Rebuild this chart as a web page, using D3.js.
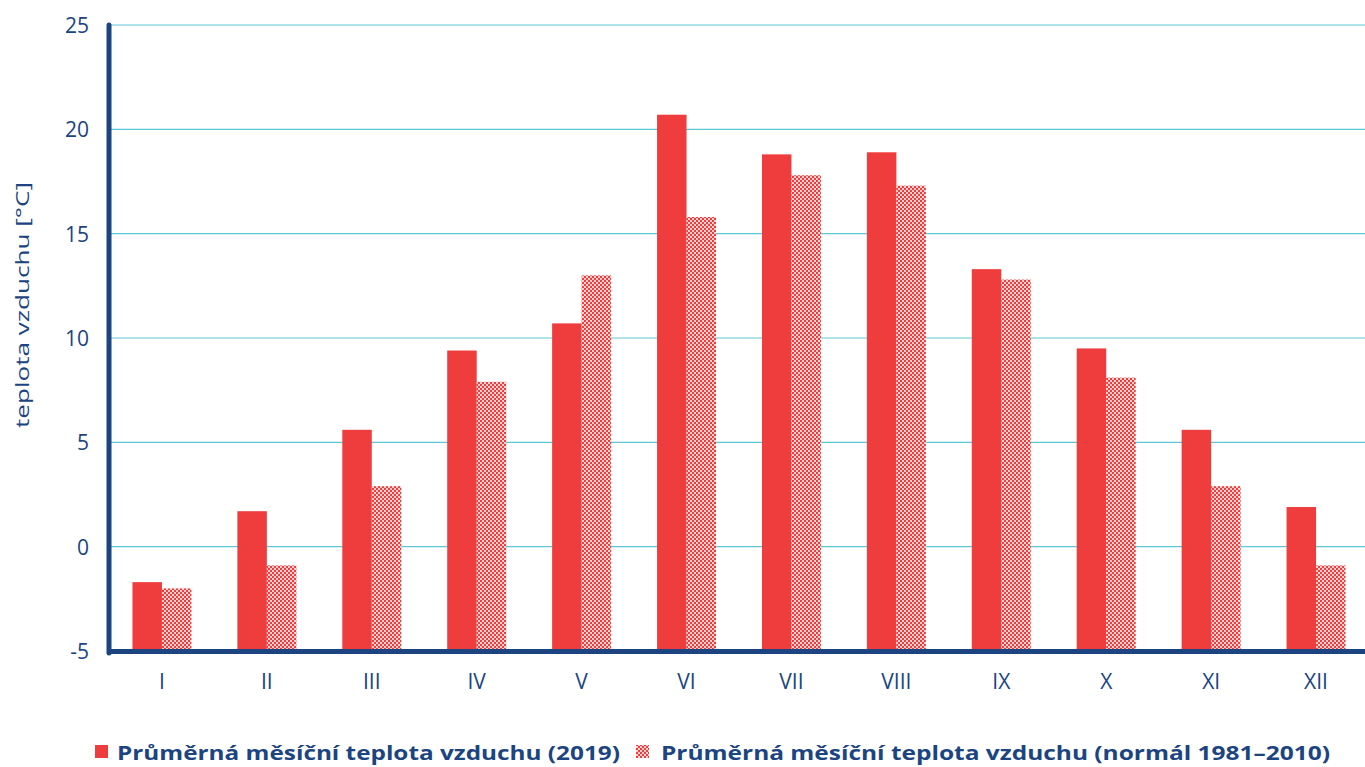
<!DOCTYPE html>
<html>
<head>
<meta charset="utf-8">
<script src="https://cdn.jsdelivr.net/npm/d3@7"></script>
<style>
  body { margin: 0; background: #fff; }
  svg text { font-family: "Open Sans", "Noto Sans", sans-serif; }
</style>
</head>
<body>
<svg id="chart" width="1365" height="767"></svg>
<script>
// months and values
var months = ["I","II","III","IV","V","VI","VII","VIII","IX","X","XI","XII"];
var temp2019 = [-1.7, 1.7, 5.6, 9.4, 10.7, 20.7, 18.8, 18.9, 13.3, 9.5, 5.6, 1.9];
var tempNormal = [-2.0, -0.9, 2.9, 7.9, 13.0, 15.8, 17.8, 17.3, 12.8, 8.1, 2.9, -0.9];
var yTicks = [-5, 0, 5, 10, 15, 20, 25];
var seriesNames = ["Průměrná měsíční teplota vzduchu (2019)", "Průměrná měsíční teplota vzduchu (normál 1981–2010)"];

var navy = "#1b4480", red = "#ef3d3e", grid = "#5cc8d3";

var svg = d3.select("#chart");
var mLeft = 110, mRight = 1365, mTop = 25, mBottom = 651;

//bands run a bit past the right edge, as in the original
var x = d3.scaleBand().domain(months).range([109.5, 1368.5]);
var y = d3.scaleLinear().domain([-5, 25]).range([mBottom, mTop]);
var barW = 29.5;

//checker pattern for normal
var defs = svg.append("defs");
var pat = defs.append("pattern")
  .attr("id", "checks")
  .attr("patternUnits", "userSpaceOnUse")
  .attr("width", 4).attr("height", 4);
pat.append("rect").attr("width", 4).attr("height", 4).attr("fill", "#fbd3d3");
pat.append("rect").attr("width", 2).attr("height", 2).attr("fill", red);
pat.append("rect").attr("x", 2).attr("y", 2).attr("width", 2).attr("height", 2).attr("fill", red);

//gridlines
svg.append("g").selectAll("line")
  .data(yTicks.filter(function(d){ return d > -5; }))
  .enter().append("line")
  .attr("x1", mLeft).attr("x2", mRight)
  .attr("y1", function(d){ return y(d); })
  .attr("y2", function(d){ return y(d); })
  .attr("stroke", grid).attr("stroke-width", 1.2);

//bars
var groups = svg.append("g").selectAll("g")
  .data(months)
  .enter().append("g");

groups.append("rect")
  .attr("x", function(d){ return x(d) + x.bandwidth()/2 - barW; })
  .attr("y", function(d, i){ return y(temp2019[i]); })
  .attr("width", barW)
  .attr("height", function(d, i){ return y(-5) - y(temp2019[i]); })
  .attr("fill", red);

groups.append("rect")
  .attr("x", function(d){ return x(d) + x.bandwidth()/2; })
  .attr("y", function(d, i){ return y(tempNormal[i]); })
  .attr("width", barW)
  .attr("height", function(d, i){ return y(-5) - y(tempNormal[i]); })
  .attr("fill", "url(#checks)");

//axes
svg.append("line")
  .attr("x1", mLeft - 1).attr("x2", mLeft - 1)
  .attr("y1", mTop).attr("y2", mBottom + 2)
  .attr("stroke", navy).attr("stroke-width", 5).attr("stroke-linecap", "round");
svg.append("line")
  .attr("x1", mLeft - 3).attr("x2", mRight)
  .attr("y1", mBottom + 0.5).attr("y2", mBottom + 0.5)
  .attr("stroke", navy).attr("stroke-width", 5);

//y tick labels
svg.append("g").selectAll("text")
  .data(yTicks)
  .enter().append("text")
  .attr("x", 89)
  .attr("y", function(d){ return y(d) + 8; })
  .attr("text-anchor", "end")
  .attr("fill", navy)
  .style("font-size", "21px")
  .text(function(d){ return d; });

//x tick labels
svg.append("g").selectAll("text")
  .data(months)
  .enter().append("text")
  .attr("x", function(d){ return x(d) + x.bandwidth()/2; })
  .attr("y", 689)
  .attr("text-anchor", "middle")
  .attr("fill", navy)
  .style("font-size", "21px")
  .text(function(d){ return d; });

//y axis label
svg.append("text")
  .attr("transform", "translate(29,305) rotate(-90)")
  .attr("text-anchor", "middle")
  .attr("fill", navy)
  .style("font-size", "19px")
  .attr("textLength", 246)
  .attr("lengthAdjust", "spacingAndGlyphs")
  .text("teplota vzduchu [°C]");

//legend
var lgd = svg.append("g");
lgd.append("rect").attr("x", 95).attr("y", 745).attr("width", 13).attr("height", 13).attr("fill", red);
lgd.append("text").attr("x", 117).attr("y", 760)
  .attr("fill", navy).style("font-size", "20px").style("font-weight", "bold")
  .attr("textLength", 503).attr("lengthAdjust", "spacingAndGlyphs")
  .text(seriesNames[0]);
lgd.append("rect").attr("x", 636).attr("y", 745).attr("width", 13).attr("height", 13).attr("fill", "url(#checks)");
lgd.append("text").attr("x", 661).attr("y", 760)
  .attr("fill", navy).style("font-size", "20px").style("font-weight", "bold")
  .attr("textLength", 669).attr("lengthAdjust", "spacingAndGlyphs")
  .text(seriesNames[1]);
</script>
</body>
</html>
